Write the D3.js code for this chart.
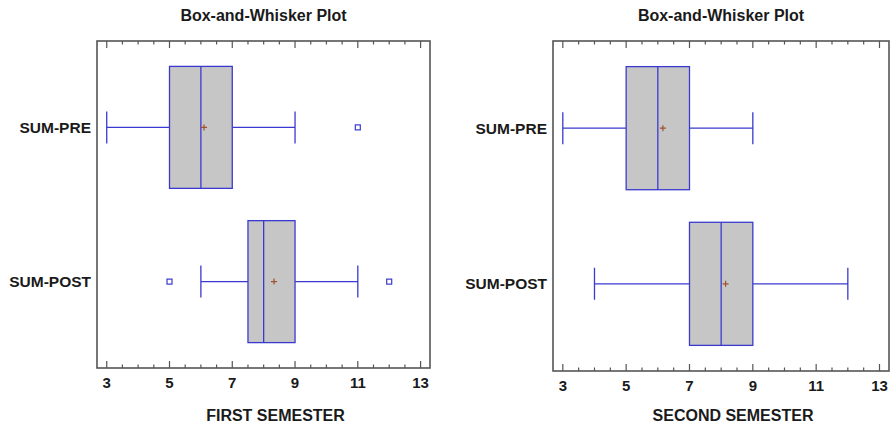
<!DOCTYPE html>
<html>
<head>
  <style type="text/css">
    body { margin: 0; background: #fff; }
    svg { display: block; font-family: "Liberation Sans", Arial, sans-serif; }
  </style>
</head>
<body>
<svg id="vis" width="893" height="426"></svg>

<script src="https://cdnjs.cloudflare.com/ajax/libs/d3/7.8.5/d3.min.js"></script>
<script type="text/javascript">
  // data
  var categories = ['SUM-PRE', 'SUM-POST']
  var tickLabels = [3, 5, 7, 9, 11, 13]

  var firstMin = [3, 6]
  var firstQ1 = [5, 7.5]
  var firstMedian = [6, 8]
  var firstQ3 = [7, 9]
  var firstMax = [9, 11]
  var firstMean = [6.1, 8.33]
  var firstOutliers = [[11], [5, 12]]

  var secondMin = [3, 4]
  var secondQ1 = [5, 7]
  var secondMedian = [6, 8]
  var secondQ3 = [7, 9]
  var secondMax = [9, 12]
  var secondMean = [6.16, 8.14]
  var secondOutliers = [[], []]

  function rows(mins, q1s, meds, q3s, maxs, means, outs) {
    return categories.map(function(c, i) {
      return { name: c, min: mins[i], q1: q1s[i], med: meds[i], q3: q3s[i],
               max: maxs[i], mean: means[i], out: outs[i] }
    })
  }

  var panels = [
    { title: 'FIRST SEMESTER', left: 97, right: 430, top: 41, bottom: 368,
      rows: rows(firstMin, firstQ1, firstMedian, firstQ3, firstMax, firstMean, firstOutliers) },
    { title: 'SECOND SEMESTER', left: 553, right: 889, top: 41, bottom: 371,
      rows: rows(secondMin, secondQ1, secondMedian, secondQ3, secondMax, secondMean, secondOutliers) }
  ]

  var svg = d3.select('#vis')
  var blue = '#3a3ad0'

  panels.forEach(function(p) {
    var g = svg.append('g')

    var x = d3.scaleLinear()
      .domain([2.69, 13.3])
      .range([p.left, p.right])
    var y = d3.scalePoint()
      .domain(categories)
      .range([p.top, p.bottom])
      .padding(0.56)

    var boxH = (p.bottom - p.top) * 0.373
    var capH = 16

    // plot title
    g.append('text')
      .attr('x', (p.left + p.right) / 2)
      .attr('y', 21)
      .attr('text-anchor', 'middle')
      .style('font-size', '16px')
      .style('font-weight', 'bold')
      .attr('fill', '#1a1a1a')
      .text('Box-and-Whisker Plot')

    // ticks (inward, top and bottom)
    var minor = d3.range(3, 13.01, 0.5)
    g.selectAll('.tick')
      .data(minor)
      .enter().append('path')
      .attr('d', function(d) {
        var len = tickLabels.indexOf(d) >= 0 ? 7 : 3.5
        return 'M' + x(d) + ',' + p.bottom + 'v' + (-len) +
               'M' + x(d) + ',' + p.top + 'v' + len
      })
      .attr('stroke', '#555')
      .attr('stroke-width', 1.2)

    g.selectAll('.tlab')
      .data(tickLabels)
      .enter().append('text')
      .attr('x', function(d) { return x(d) })
      .attr('y', p.bottom + 20)
      .attr('text-anchor', 'middle')
      .style('font-size', '15px')
      .style('font-weight', 'bold')
      .attr('fill', '#1a1a1a')
      .text(function(d) { return d })

    // axis title (sits a little right of the panel centre)
    g.append('text')
      .attr('x', (p.left + p.right) / 2 + 12)
      .attr('y', 421)
      .attr('text-anchor', 'middle')
      .style('font-size', '16px')
      .style('font-weight', 'bold')
      .attr('fill', '#1a1a1a')
      .text(p.title)

    // category labels
    g.selectAll('.cat')
      .data(categories)
      .enter().append('text')
      .attr('x', p.left - 6)
      .attr('y', function(d) { return y(d) })
      .attr('dy', '0.35em')
      .attr('text-anchor', 'end')
      .style('font-size', '15.5px')
      .style('font-weight', 'bold')
      .attr('fill', '#1a1a1a')
      .text(function(d) { return d })

    var box = g.selectAll('.box')
      .data(p.rows)
      .enter().append('g')

    // whiskers
    box.append('path')
      .attr('d', function(d) {
        var cy = y(d.name)
        return 'M' + x(d.min) + ',' + cy + 'H' + x(d.q1) +
               'M' + x(d.q3) + ',' + cy + 'H' + x(d.max) +
               'M' + x(d.min) + ',' + (cy - capH) + 'v' + (2 * capH) +
               'M' + x(d.max) + ',' + (cy - capH) + 'v' + (2 * capH)
      })
      .attr('stroke', blue)
      .attr('stroke-width', 1.3)
      .attr('fill', 'none')

    box.append('rect')
      .attr('x', function(d) { return x(d.q1) })
      .attr('y', function(d) { return y(d.name) - boxH / 2 })
      .attr('width', function(d) { return x(d.q3) - x(d.q1) })
      .attr('height', boxH)
      .attr('fill', '#c6c6c6')
      .attr('stroke', blue)
      .attr('stroke-width', 1.3)

    box.append('line')
      .attr('x1', function(d) { return x(d.med) })
      .attr('x2', function(d) { return x(d.med) })
      .attr('y1', function(d) { return y(d.name) - boxH / 2 })
      .attr('y2', function(d) { return y(d.name) + boxH / 2 })
      .attr('stroke', blue)
      .attr('stroke-width', 1.3)

    // mean marker
    box.append('path')
      .attr('d', function(d) {
        var cx = x(d.mean), cy = y(d.name)
        return 'M' + (cx - 3) + ',' + cy + 'h6M' + cx + ',' + (cy - 3) + 'v6'
      })
      .attr('stroke', '#a0522d')
      .attr('stroke-width', 1.2)

    // outliers
    box.each(function(d) {
      d3.select(this).selectAll('.out')
        .data(d.out)
        .enter().append('rect')
        .attr('x', function(v) { return x(v) - 2.5 })
        .attr('y', y(d.name) - 2.5)
        .attr('width', 5)
        .attr('height', 5)
        .attr('fill', '#fff')
        .attr('stroke', blue)
        .attr('stroke-width', 1.2)
    })

    // frame
    g.append('rect')
      .attr('x', p.left)
      .attr('y', p.top)
      .attr('width', p.right - p.left)
      .attr('height', p.bottom - p.top)
      .attr('fill', 'none')
      .attr('stroke', '#555')
      .attr('stroke-width', 1.6)
  })
</script>
</body>
</html>
